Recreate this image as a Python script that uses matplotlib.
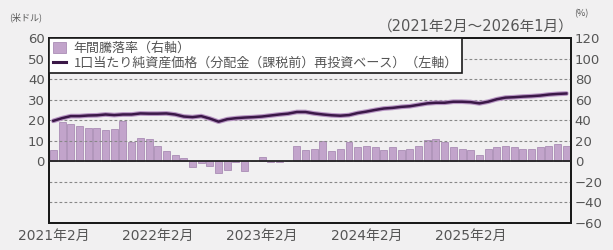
import matplotlib
matplotlib.use("Agg")
import matplotlib.pyplot as plt
from matplotlib.patches import Patch
from matplotlib.lines import Line2D
import numpy as np

plt.rcParams['font.family'] = ['Noto Sans CJK JP', 'DejaVu Sans']

# Monthly data: Feb 2021 .. Jan 2026 (60 months)
annual_return_pct = [11, 38, 36, 34, 32, 32, 30, 31, 39, 19, 23, 22,
                     15, 10, 6, 3, -6, -2, -5, -11, -8, -1, -9, 0,
                     4, -1, -1, 0, 15, 11, 12, 20, 10, 12, 19, 14,
                     15, 14, 11, 14, 11, 12, 15, 21, 22, 19, 14, 12,
                     11, 6, 12, 14, 15, 14, 12, 12, 14, 15, 17, 15]
nav_usd = [19.7, 21.0, 22.0, 22.0, 22.3, 22.4, 22.8, 22.5, 22.8, 22.8, 23.3, 23.2,
           23.2, 23.3, 22.8, 21.8, 21.5, 22.0, 20.8, 19.3, 20.5, 21.0, 21.3, 21.5,
           21.8, 22.3, 22.8, 23.2, 24.0, 24.0, 23.3, 22.8, 22.4, 22.2, 22.5, 23.5,
           24.2, 25.0, 25.7, 26.0, 26.5, 26.8, 27.5, 28.2, 28.5, 28.5, 29.0, 29.0,
           28.8, 28.2, 29.0, 30.2, 31.0, 31.2, 31.5, 31.7, 32.0, 32.5, 32.8, 33.0]
xtick_labels = ["2021年2月", "2022年2月", "2023年2月", "2024年2月", "2025年2月"]
left_ticks = [0, 10, 20, 30, 40, 50, 60]
right_ticks = [-60, -40, -20, 0, 20, 40, 60, 80, 100, 120]

bar_label = "年間騰落率（右軸）"
line_label = "1口当たり純資産価格（分配金（課税前）再投資ベース）（左軸）"

txt = '#555555'
bar_face = '#c2a4cb'
bar_edge = '#a080ad'
line_col = '#3b1848'
num_font = ['DejaVu Sans', 'Noto Sans CJK JP']

fig = plt.figure(figsize=(6.13, 2.5), dpi=100, facecolor='#f1f0f1')
ax = fig.add_axes([0.080, 0.108, 0.851, 0.740])
ax2 = ax.twinx()

x = np.arange(len(nav_usd))

ax2.bar(x, annual_return_pct, width=0.8, color=bar_face, edgecolor=bar_edge, linewidth=0.5)
ax2.set_ylim(-60, 120)
ax2.set_yticks(right_ticks)
ax2.set_yticklabels([str(t).replace('-', '−') for t in right_ticks], family=num_font)

ax.set_zorder(ax2.get_zorder() + 1)
ax.patch.set_visible(False)
ax2.set_facecolor('white')

for g in [-20, -10, 10, 20, 30, 40, 50]:
    ax.axhline(g, color='#888888', linestyle=(0, (2.5, 2)), linewidth=0.8, zorder=1)
ax.axhline(0, color='#222222', linewidth=1.3, zorder=3)

ax.plot(x, nav_usd, color='#b896c4', linewidth=3.4, zorder=4, solid_capstyle='round')
ax.plot(x, nav_usd, color=line_col, linewidth=1.8, zorder=5)

ax.set_ylim(-30, 60)
ax.set_yticks(left_ticks)
ax.set_yticklabels([str(t) for t in left_ticks], family=num_font)
ax.set_xlim(-0.5, 59.5)
ax.set_xticks([0, 12, 24, 36, 48])
ax.set_xticklabels(xtick_labels, family=num_font)

for a in (ax, ax2):
    a.tick_params(length=0, labelsize=9.5, labelcolor=txt, pad=3)
    for s in a.spines.values():
        s.set_color('#1a1a1a')
        s.set_linewidth(1.4)
ax.tick_params(axis='x', pad=4, labelsize=10)

handles = [Patch(facecolor=bar_face, edgecolor=bar_edge, linewidth=0.5),
           Line2D([0], [0], color=line_col, linewidth=2.2)]
leg = ax.legend(handles, [bar_label, line_label], loc='upper left',
                bbox_to_anchor=(0, 1), borderaxespad=0, fontsize=9.4,
                frameon=True, fancybox=False, framealpha=1, edgecolor='#1a1a1a',
                handlelength=1.0, handleheight=0.9, handletextpad=0.6,
                borderpad=0.3, labelspacing=0.12, labelcolor=txt)
leg.get_frame().set_linewidth(1.2)
leg.set_zorder(10)

fig.text(0.015, 0.93, "(米ドル)", fontsize=6.5, color=txt, ha='left', va='center')
fig.text(0.937, 0.945, "(%)", fontsize=6.5, color=txt, ha='left', va='center')
fig.text(0.935, 0.895, "（2021年2月～2026年1月）", fontsize=10.5, color=txt,
         ha='right', va='center', family=num_font)

fig.savefig("out.png", dpi=100, facecolor=fig.get_facecolor())
